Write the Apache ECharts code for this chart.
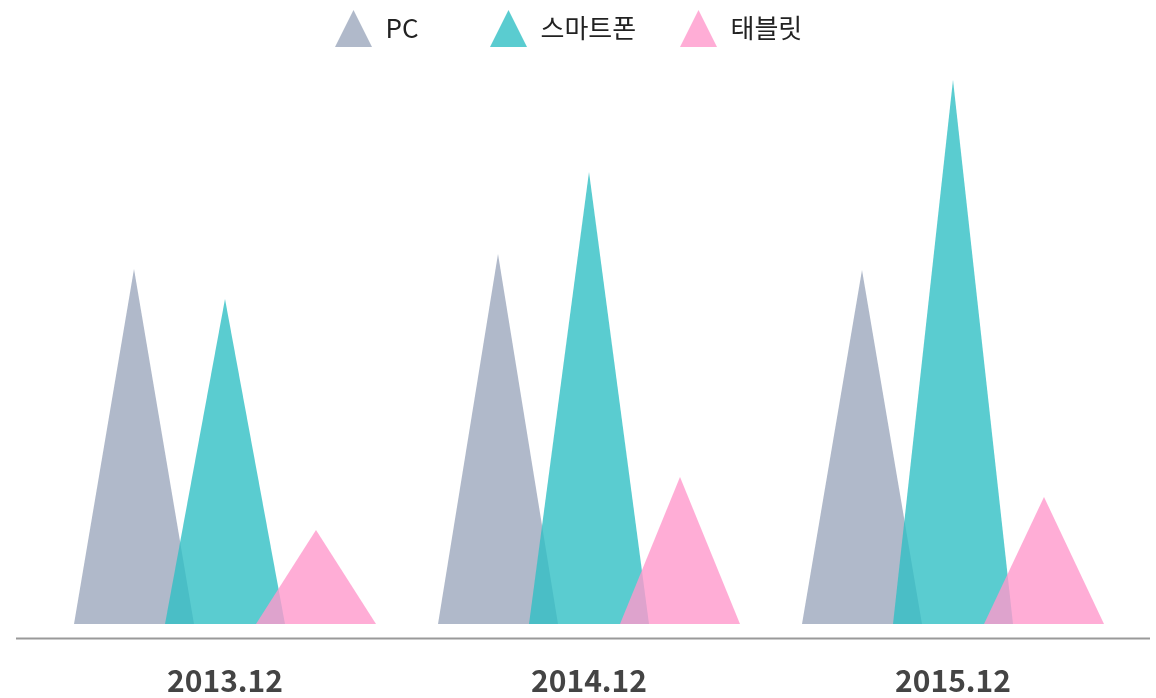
<!DOCTYPE html>
<html>
<head>
<meta charset="utf-8">
<script src="https://cdn.jsdelivr.net/npm/echarts@6/dist/echarts.min.js"></script>
<style>
  html, body { margin: 0; padding: 0; background: #fff; }
  #chart { width: 1156px; height: 698px; }
</style>
</head>
<body>
<div id="chart"></div>
<script>
// 기간별 기기 점유 (값은 그림에서 읽은 추정치)
var categories = ['2013.12', '2014.12', '2015.12'];
var pcData = [35.5, 37.0, 35.4];
var phoneData = [32.5, 45.2, 54.4];
var tabletData = [9.4, 14.7, 12.7];
var seriesNames = ['PC', '스마트폰', '태블릿'];

var TRI = 'path://M0,10 L10,10 L5,0 z';
var FONT = '"Noto Sans CJK KR", "Noto Sans", sans-serif';

var chart = echarts.init(document.getElementById('chart'));

function mkSeries(name, data, color) {
    return {
        name: name,
        type: 'pictorialBar',
        symbol: TRI,
        symbolSize: [120, '100%'],
        barWidth: 91,
        barGap: '0%',
        itemStyle: { color: color, opacity: 0.8 },
        data: data
    };
}

function mkLegend(name, left) {
    return {
        data: [name],
        top: 10,
        left: left,
        padding: 0,
        icon: TRI,
        itemWidth: 38,
        itemHeight: 37,
        textStyle: {
            fontFamily: FONT,
            fontSize: 26,
            color: '#222',
            padding: [0, 0, 0, 8]
        }
    };
}

var option = {
    backgroundColor: '#fff',
    textStyle: { fontFamily: FONT },
    legend: [
        mkLegend(seriesNames[0], 335),
        mkLegend(seriesNames[1], 490),
        mkLegend(seriesNames[2], 680)
    ],
    grid: { left: 43, right: 21, top: 24, bottom: 74 },
    xAxis: {
        type: 'category',
        data: categories,
        axisLine: { show: false },
        axisTick: { show: false },
        axisLabel: {
            margin: 42,
            fontSize: 30,
            fontWeight: 'bold',
            color: '#444',
            fontFamily: FONT
        }
    },
    yAxis: {
        type: 'value',
        min: 0,
        max: 60,
        show: false,
        splitLine: { show: false }
    },
    graphic: [{
        type: 'line',
        shape: { x1: 16, y1: 638.5, x2: 1150, y2: 638.5 },
        style: { stroke: '#999', lineWidth: 2 }
    }],
    series: [
        mkSeries(seriesNames[0], pcData, '#9ca8bd'),
        mkSeries(seriesNames[1], phoneData, '#31bfc4'),
        mkSeries(seriesNames[2], tabletData, '#ff99cc')
    ]
};

chart.setOption(option);
</script>
</body>
</html>
